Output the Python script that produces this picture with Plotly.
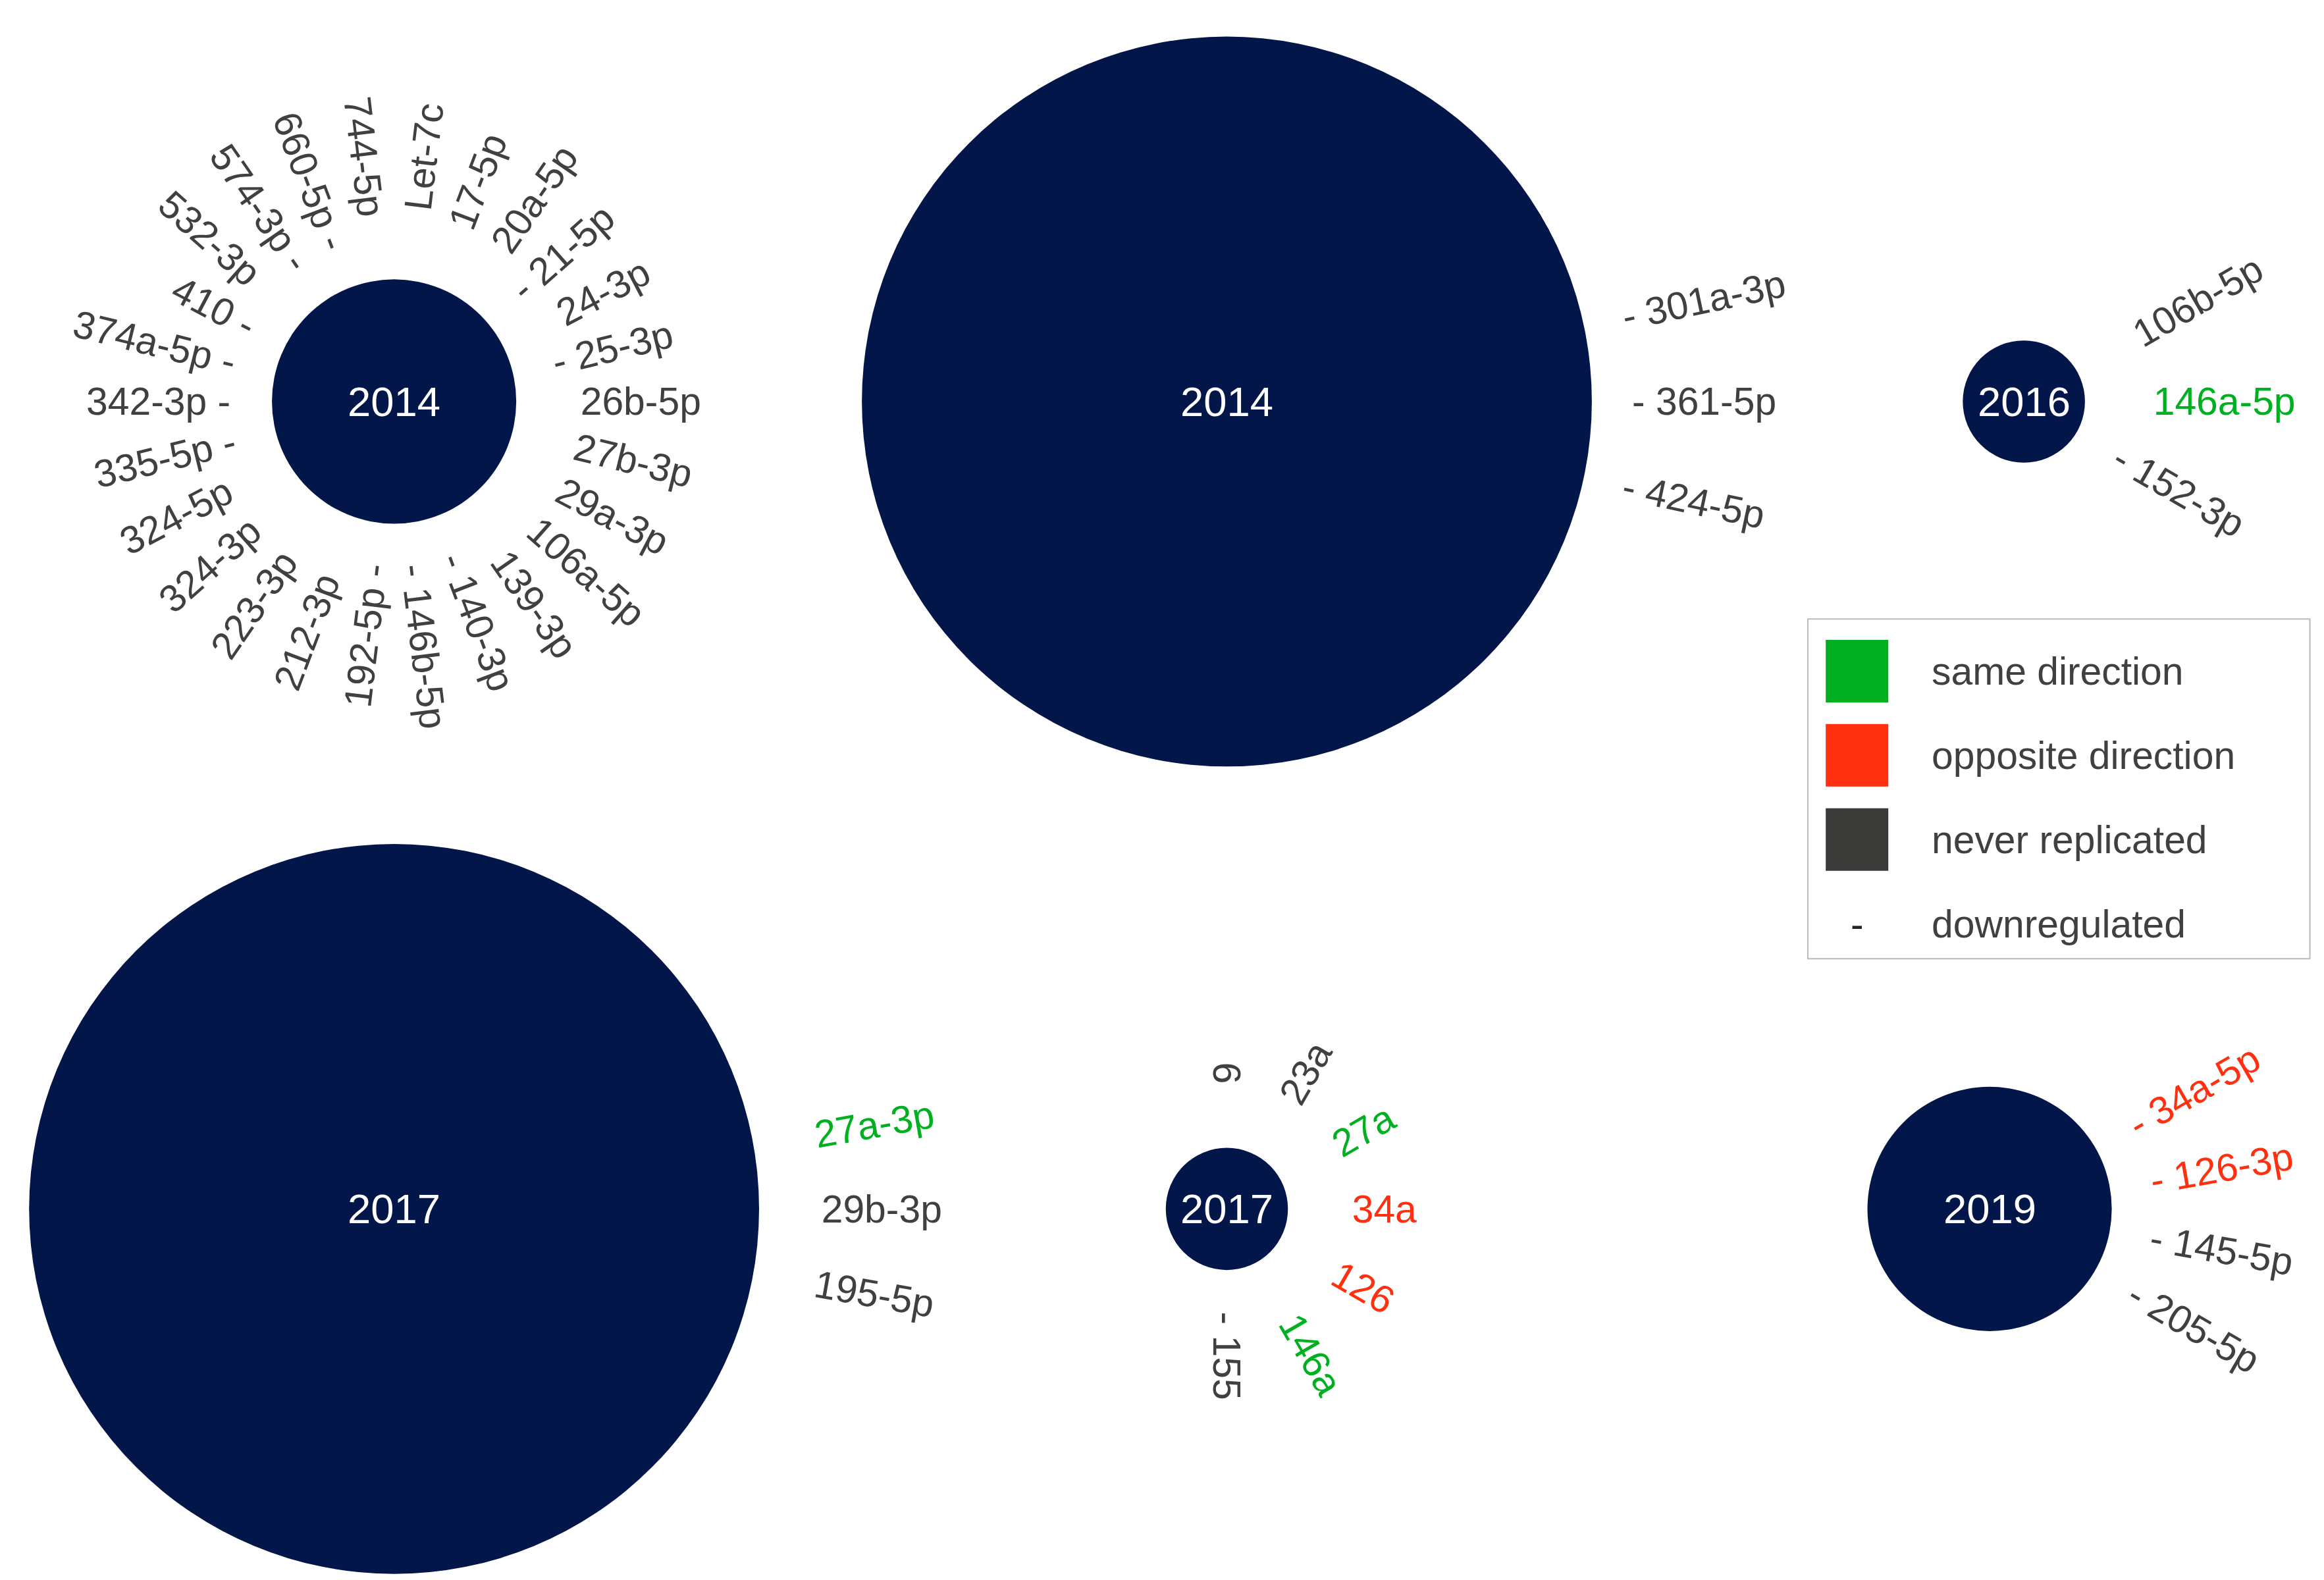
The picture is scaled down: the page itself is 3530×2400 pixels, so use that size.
import math
import plotly.graph_objects as go

W, H = 3530, 2400
SX = 1560.0
SY = SX * H / W
K = W / SX  # px per data unit

NAVY = "#03164a"
COL = {"k": "#404040", "g": "#00b020", "r": "#ff3010"}

# circles: year label, centre, radius
circle_years = ["2014", "2014", "2016", "2017", "2017", "2019"]
circle_cx = [261, 820, 1355, 261, 820, 1332]
circle_cy = [266, 266, 266, 808, 808, 808]
circle_r = [82, 245, 41, 245, 41, 82]
label_rin = [100, 262, 62, 262, 62, 100]

# miRNA labels per circle: (name, angle deg, colour, downregulated)
c1_names = ["26b-5p", "27b-3p", "29a-3p", "106a-5p", "139-3p", "140-3p", "146b-5p", "192-5p",
            "212-3p", "223-3p", "324-3p", "324-5p", "335-5p", "342-3p", "374a-5p", "410",
            "532-3p", "574-3p", "660-5p", "744-5p", "Let-7c", "17-5p", "20a-5p", "21-5p",
            "24-3p", "25-3p"]
c1_down = [0, 0, 0, 0, 0, 1, 1, 1, 0, 0, 0, 0, 1, 1, 1, 1, 0, 1, 1, 0, 0, 0, 0, 1, 0, 1]
c1_angles = [i * 360 / 26 for i in range(26)]
c1_cols = ["k"] * 26

c2_names = ["301a-3p", "361-5p", "424-5p"]
c2_angles = [-12, 0, 12]
c2_cols = ["k", "k", "k"]
c2_down = [1, 1, 1]

c3_names = ["106b-5p", "146a-5p", "152-3p"]
c3_angles = [-30, 0, 30]
c3_cols = ["k", "g", "k"]
c3_down = [0, 0, 1]

c4_names = ["27a-3p", "29b-3p", "195-5p"]
c4_angles = [-10, 0, 10]
c4_cols = ["g", "k", "k"]
c4_down = [0, 0, 0]

c5_names = ["9", "23a", "27a", "34a", "126", "146a", "155"]
c5_angles = [-90, -60, -30, 0, 30, 60, 90]
c5_cols = ["k", "k", "g", "r", "r", "g", "k"]
c5_down = [0, 0, 0, 0, 0, 0, 1]

c6_names = ["34a-5p", "126-3p", "145-5p", "205-5p"]
c6_angles = [-30, -10, 10, 30]
c6_cols = ["r", "r", "k", "k"]
c6_down = [1, 1, 1, 1]

groups = [
    (c1_names, c1_angles, c1_cols, c1_down),
    (c2_names, c2_angles, c2_cols, c2_down),
    (c3_names, c3_angles, c3_cols, c3_down),
    (c4_names, c4_angles, c4_cols, c4_down),
    (c5_names, c5_angles, c5_cols, c5_down),
    (c6_names, c6_angles, c6_cols, c6_down),
]

legend_labels = ["same direction", "opposite direction", "never replicated", "downregulated"]
legend_cols = [COL["g"], "#ff3010", "#3a3a38", None]

LFS = 26  # label font in data units
CHW = 0.56 * LFS

fig = go.Figure()
shapes, annots = [], []

for i, yr in enumerate(circle_years):
    cx, cy, r = circle_cx[i], circle_cy[i], circle_r[i]
    shapes.append(dict(type="circle", xref="x", yref="y", x0=cx - r, x1=cx + r, y0=cy - r, y1=cy + r,
                       fillcolor=NAVY, line=dict(width=0), layer="below"))
    annots.append(dict(x=cx, y=cy, text=yr, showarrow=False,
                       font=dict(size=28 * K, color="white", family="Liberation Sans, Arial")))
    names, angs, cols, down = groups[i]
    for n, a, c, d in zip(names, angs, cols, down):
        rad = math.radians(a)
        right = math.cos(rad) > 1e-6 or abs(a - 90) < 1e-6 or abs(a + 90) < 1e-6
        pad = "-\u00a0" if d else "\u00a0\u00a0"
        text = pad + n if right else n + "\u00a0" + ("-" if d else "\u00a0")
        L = len(text) * CHW
        rc = label_rin[i] + L / 2
        tx = cx + rc * math.cos(rad)
        ty = cy + rc * math.sin(rad)
        ta = a if right else a - 180
        annots.append(dict(x=tx, y=ty, text=text, showarrow=False, textangle=ta,
                           xanchor="center", yanchor="middle",
                           font=dict(size=LFS * K, color=COL[c], family="Liberation Sans, Arial")))

# legend
shapes.append(dict(type="rect", xref="x", yref="y", x0=1210, x1=1547, y0=412, y1=640,
                   line=dict(color="#bbbbbb", width=2), fillcolor="white"))
for j, (lab, col) in enumerate(zip(legend_labels, legend_cols)):
    yy = 447 + j * 56.5
    if col:
        shapes.append(dict(type="rect", xref="x", yref="y", x0=1222, x1=1264, y0=yy - 21, y1=yy + 21,
                           fillcolor=col, line=dict(width=0)))
    else:
        annots.append(dict(x=1243, y=yy, text="-", showarrow=False,
                           font=dict(size=26 * K, color="#222222", family="Liberation Sans, Arial")))
    annots.append(dict(x=1292, y=yy, text=lab, showarrow=False, xanchor="left",
                       font=dict(size=26 * K, color="#404040", family="Liberation Sans, Arial")))

fig.update_layout(
    width=W, height=H, margin=dict(l=0, r=0, t=0, b=0),
    paper_bgcolor="white", plot_bgcolor="white", showlegend=False,
    xaxis=dict(range=[0, SX], visible=False, fixedrange=True),
    yaxis=dict(range=[SY, 0], visible=False, fixedrange=True),
    shapes=shapes, annotations=annots,
)
fig.write_html("out.html")
